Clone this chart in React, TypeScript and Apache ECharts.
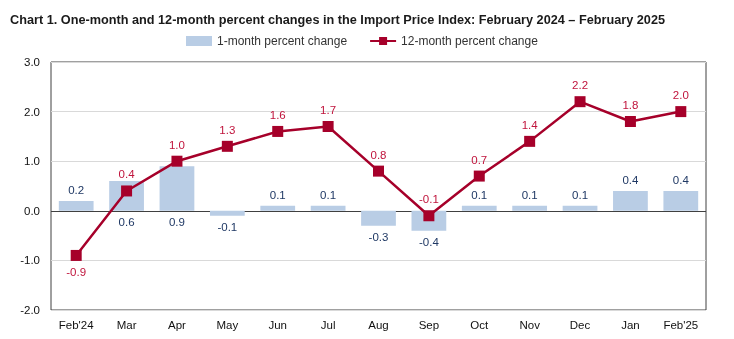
import React, { useEffect, useRef } from "react";
import * as echarts from "echarts";

const categories = ["Feb'24", "Mar", "Apr", "May", "Jun", "Jul", "Aug", "Sep", "Oct", "Nov", "Dec", "Jan", "Feb'25"];
const oneMonth = [0.2, 0.6, 0.9, -0.1, 0.1, 0.1, -0.3, -0.4, 0.1, 0.1, 0.1, 0.4, 0.4];
const twelveMonth = [-0.9, 0.4, 1.0, 1.3, 1.6, 1.7, 0.8, -0.1, 0.7, 1.4, 2.2, 1.8, 2.0];
const barLabelPos = ["top", "bottom", "bottom", "bottom", "top", "top", "bottom", "bottom", "top", "top", "top", "top", "top"];
const lineLabelPos = ["bottom", "top", "top", "top", "top", "top", "top", "top", "top", "top", "top", "top", "top"];
const yTicks = { min: -2, max: 3, interval: 1 };

const FONT = "'Liberation Sans', Arial, sans-serif";

export default function App() {
  const ref = useRef<HTMLDivElement>(null);
  useEffect(() => {
    if (!ref.current) return;
    const chart = echarts.init(ref.current, undefined, { renderer: "svg" });
    chart.setOption({
      animation: false,
      textStyle: { fontFamily: FONT },
      title: {
        text: "Chart 1. One-month and 12-month percent changes in the Import Price Index: February 2024 \u2013 February 2025",
        left: 5,
        top: 8,
        textStyle: { fontSize: 12.7, fontWeight: "bold", color: "#1a1a1a", fontFamily: FONT },
      },
      legend: {
        top: 30,
        left: 181,
        itemGap: 22,
        itemWidth: 26,
        itemHeight: 10,
        textStyle: { fontSize: 12, color: "#333", fontFamily: FONT },
        data: [
          { name: "1-month percent change", icon: "rect" },
          { name: "12-month percent change" },
        ],
      },
      grid: {
        left: 51,
        right: 28,
        top: 62,
        bottom: 29,
        show: true,
        borderColor: "#404040",
        borderWidth: 1,
      },
      xAxis: {
        type: "category",
        data: categories,
        axisLine: { show: false },
        axisTick: { show: false },
        axisLabel: { fontSize: 11.5, color: "#111", margin: 9, fontFamily: FONT },
      },
      yAxis: {
        type: "value",
        min: yTicks.min,
        max: yTicks.max,
        interval: yTicks.interval,
        axisLine: { show: false },
        axisTick: { show: false },
        axisLabel: {
          fontSize: 11.5,
          color: "#111",
          margin: 11,
          fontFamily: FONT,
          formatter: (v: number) => v.toFixed(1),
        },
        splitLine: {
          lineStyle: {
            color: ["#d9d9d9", "#d9d9d9", "#404040", "#d9d9d9", "#d9d9d9", "#d9d9d9"],
            width: 1,
          },
        },
      },
      series: [
        {
          name: "1-month percent change",
          type: "bar",
          barWidth: "69%",
          itemStyle: { color: "#b9cde5" },
          z: 1,
          data: oneMonth.map((v, i) => ({
            value: v,
            label: {
              show: true,
              position: barLabelPos[i],
              distance: 5,
              formatter: (p: any) => Number(p.value).toFixed(1),
              fontSize: 11.5,
              color: "#1f3864",
              fontFamily: FONT,
            },
          })),
        },
        {
          name: "12-month percent change",
          type: "line",
          symbol: "rect",
          symbolSize: 11,
          z: 3,
          lineStyle: { color: "#a6002a", width: 2.5 },
          itemStyle: { color: "#a6002a" },
          data: twelveMonth.map((v, i) => ({
            value: v,
            label: {
              show: true,
              position: lineLabelPos[i],
              distance: 5,
              formatter: (p: any) => Number(p.value).toFixed(1),
              fontSize: 11.5,
              color: "#c0143c",
              fontFamily: FONT,
            },
          })),
        },
      ],
    });
    return () => chart.dispose();
  }, []);
  return <div ref={ref} style={{ position: "fixed", left: 0, top: 0, width: 734, height: 339 }} />;
}
